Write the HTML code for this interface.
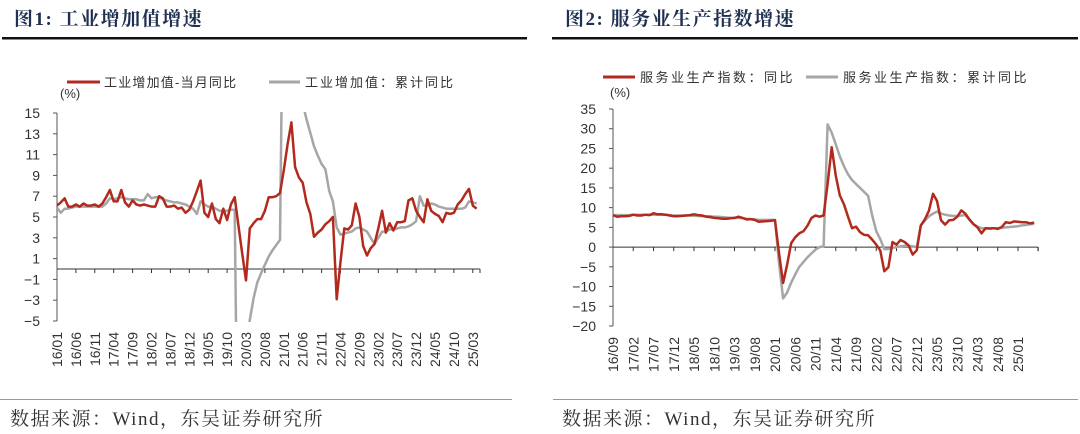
<!DOCTYPE html>
<html><head><meta charset="utf-8">
<style>
html,body{margin:0;padding:0;background:#fff;width:1080px;height:434px;overflow:hidden;}
svg{display:block;font-family:"Liberation Sans","Noto Sans CJK SC",sans-serif;}
</style></head>
<body>
<svg id="s" width="1080" height="434" viewBox="0 0 1080 434" xmlns="http://www.w3.org/2000/svg">
<defs>
<clipPath id="c1"><rect x="57" y="112" width="430" height="210"/></clipPath>
<clipPath id="c2"><rect x="612" y="100" width="440" height="240"/></clipPath>
</defs>
<text x="14" y="25" font-family="'Liberation Serif','Noto Serif CJK SC',serif" font-weight="bold" font-size="19" letter-spacing="1.5" fill="#1f3050">图1:  工业增加值增速</text>
<rect x="2" y="37" width="525" height="2.5" fill="#111"/>
<text x="565" y="25" font-family="'Liberation Serif','Noto Serif CJK SC',serif" font-weight="bold" font-size="19" letter-spacing="1.5" fill="#1f3050">图2:  服务业生产指数增速</text>
<rect x="552" y="37" width="526" height="2.5" fill="#111"/>

<g>
<line x1="67" y1="82" x2="100" y2="82" stroke="#b22a1e" stroke-width="3"/>
<text x="104" y="87" font-size="13" fill="#333" letter-spacing="1.2">工业增加值-当月同比</text>
<line x1="269" y1="82" x2="300" y2="82" stroke="#a6a6a6" stroke-width="3"/>
<text x="305" y="87" font-size="13" fill="#333" letter-spacing="2">工业增加值：累计同比</text>
</g>
<text x="60" y="98" font-size="13" fill="#333">(%)</text>

<g>
<line x1="603" y1="77" x2="635" y2="77" stroke="#b22a1e" stroke-width="3"/>
<text x="640" y="82" font-size="13" fill="#333" letter-spacing="2.5">服务业生产指数：同比</text>
<line x1="806" y1="77" x2="838" y2="77" stroke="#a6a6a6" stroke-width="3"/>
<text x="843" y="82" font-size="13" fill="#333" letter-spacing="2.5">服务业生产指数：累计同比</text>
</g>
<text x="610" y="97" font-size="13" fill="#333">(%)</text>

<rect x="0" y="399" width="512" height="1" fill="#999"/>
<rect x="553" y="399" width="525" height="1" fill="#999"/>
<text x="10" y="425" font-family="'Liberation Serif','Noto Serif CJK SC',serif" font-size="19" letter-spacing="1.5" fill="#333">数据来源：Wind，东吴证券研究所</text>
<text x="562" y="425" font-family="'Liberation Serif','Noto Serif CJK SC',serif" font-size="19" letter-spacing="1.5" fill="#333">数据来源：Wind，东吴证券研究所</text>
<g id="g1"></g><g id="g2"></g>
</svg>
<script>
// ---------- Chart 1 data (monthly from 16/01) ----------
const c1Ticks = [15,13,11,9,7,5,3,1,-1,-3,-5];
const c1Labels = ["16/01","16/06","16/11","17/04","17/09","18/02","18/07","18/12","19/05","19/10","20/03","20/08","21/01","21/06","21/11","22/04","22/09","23/02","23/07","23/12","24/05","24/10","25/03"];
const c1Monthly = [6.1,6.4,6.8,6.0,6.0,6.2,6.0,6.3,6.1,6.1,6.2,6.0,
6.3,6.9,7.6,6.5,6.5,7.6,6.4,6.0,6.6,6.2,6.1,6.2,
6.1,6.0,6.0,7.0,6.8,6.0,6.0,6.1,5.8,5.9,5.4,5.7,
6.5,7.5,8.5,5.4,5.0,6.3,4.8,4.4,5.8,4.7,6.2,6.9,
4.2,1.5,-1.1,3.9,4.4,4.8,4.8,5.6,6.9,6.9,7.0,7.3,
9.5,12.0,14.1,9.8,8.8,8.3,6.4,5.3,3.1,3.5,3.8,4.3,
4.6,5.0,-2.9,0.7,3.9,3.8,4.2,6.3,5.0,2.2,1.3,2.0,
2.4,3.9,5.6,3.5,4.4,3.7,4.5,4.5,4.6,6.6,6.8,5.6,
5.0,4.5,6.7,5.6,5.3,5.1,4.5,5.4,5.3,5.4,6.2,6.6,7.2,7.7,6.1,5.8];
const c1Cumulative = [5.9,5.4,5.8,5.8,5.9,6.0,6.0,6.0,6.0,6.0,6.0,6.0,
6.0,6.3,6.8,6.7,6.8,6.9,6.8,6.7,6.7,6.7,6.6,6.6,
7.2,6.8,6.9,6.9,6.7,6.6,6.5,6.4,6.4,6.3,6.2,6.0,
5.8,5.3,6.5,6.2,6.0,6.0,5.8,5.6,5.6,5.6,5.7,5.7,
-25.9,-19.6,-8.4,-4.9,-2.8,-1.3,-0.4,0.4,1.2,1.8,2.3,2.8,
35.1,35.1,24.5,20.3,17.8,15.9,14.4,13.1,11.8,10.9,10.1,9.6,
7.5,6.5,4.0,3.3,3.4,3.5,3.6,3.9,4.0,3.8,3.6,3.0,
2.4,3.0,3.6,3.6,3.8,3.8,3.9,4.0,4.0,4.1,4.3,4.6,
7.0,6.1,6.1,6.3,6.2,6.0,5.9,5.8,5.8,5.8,5.8,5.8,5.9,6.5,6.4,6.3];
// ---------- Chart 2 data (monthly from 16/09) ----------
const c2Ticks = [35,30,25,20,15,10,5,0,-5,-10,-15,-20];
const c2Labels = ["16/09","17/02","17/07","17/12","18/05","18/10","19/03","19/08","20/01","20/06","20/11","21/04","21/09","22/02","22/07","22/12","23/05","23/10","24/03","24/08","25/01"];
const c2Yoy = [8.1,7.7,7.8,7.8,7.9,8.2,8.0,8.0,8.2,8.1,
8.6,8.3,8.3,8.2,8.0,7.8,7.8,7.9,8.0,8.1,
8.3,8.1,8.0,7.7,7.6,7.4,7.3,7.2,7.2,7.3,
7.4,7.7,7.4,7.0,7.1,6.9,6.4,6.5,6.6,6.7,
6.8,-1.5,-9.1,-4.5,1.0,2.5,3.5,4.0,5.4,7.4,8.0,7.7,
8.0,16.0,25.3,18.1,13.1,10.9,7.8,4.8,5.2,3.8,3.1,3.0,1.9,0.6,-0.9,
-6.1,-5.1,1.3,0.6,1.8,1.3,0.4,-1.9,-0.8,
5.5,7.0,9.2,13.5,11.7,6.8,5.7,6.8,6.9,7.7,9.3,8.5,
7.0,5.8,5.0,3.5,4.8,4.7,4.8,4.6,5.1,6.3,6.1,6.5,6.4,6.3,6.3,6.0,6.2];
const c2Cumulative = [8.1,8.1,8.1,8.1,8.1,8.2,8.2,8.2,8.2,8.2,
8.2,8.2,8.2,8.2,8.1,8.0,8.0,8.0,8.0,8.0,
7.9,7.9,7.8,7.8,7.8,7.7,7.7,7.6,7.5,7.4,
7.4,7.4,7.3,7.2,7.1,7.0,6.9,6.9,6.9,6.9,
6.9,-4.0,-13.0,-11.5,-9.0,-6.9,-5.0,-3.8,-2.6,-1.6,-0.6,0.0,
0.2,31.1,29,26,23,20.5,18.5,17,16,15,14,13,8,4,2.0,
-0.5,-0.5,-0.2,0.0,0.2,0.3,0.3,0.2,0.0,
5.5,6.7,7.8,8.5,9.0,8.5,8.2,8.0,7.9,7.9,8.0,8.1,
7.0,5.8,5.2,4.8,4.8,4.7,4.8,4.8,4.9,5.0,5.1,5.2,5.3,5.5,5.6,5.8,5.9];

const NS="http://www.w3.org/2000/svg";
function mk(tag,attrs,parent){const e=document.createElementNS(NS,tag);for(const k in attrs)e.setAttribute(k,attrs[k]);parent.appendChild(e);return e;}

function drawChart(g,cfg){
  const {x0,step,yTop,yBot,vTop,vBot,xEnd,ticks,labels,s1,s2,clip,prefix,labelRight}=cfg;
  const X=i=>x0+step*i;
  const Y=v=>yTop+(vTop-v)/(vTop-vBot)*(yBot-yTop);
  const ax=mk('line',{x1:x0,y1:yTop,x2:x0,y2:yBot,stroke:'#555','stroke-width':1},g);
  
  
  ticks.forEach(t=>{
    const y=Y(t);
    const tl=mk('line',{x1:x0-4,y1:y,x2:x0,y2:y,stroke:'#555'},g);
    
    
    const tx=mk('text',{x:labelRight,y:y+5,'text-anchor':'end','font-size':14,fill:'#333'},g);
    tx.textContent=String(t).replace('-','\u2212');
    
    
  });
  const zl=mk('line',{x1:x0,y1:Y(0),x2:xEnd,y2:Y(0),stroke:'#333','stroke-width':1},g);
  
  
  for(let i=5;X(i)<=xEnd+1;i+=5){
    const tk=mk('line',{x1:X(i),y1:Y(0),x2:X(i),y2:Y(0)+4,stroke:'#333'},g);
    
    
  }
  mk('line',{x1:xEnd,y1:Y(0),x2:xEnd,y2:Y(0)+4,stroke:'#333'},g);
  labels.forEach((lb,k)=>{
    const x=X(k*5);
    const t=mk('text',{x:0,y:0,'text-anchor':'end','font-size':14,fill:'#333',transform:`translate(${x+5},${yBot+11}) rotate(-90)`},g);
    t.textContent=lb;
    
    
  });
  const line=(arr,color,name)=>{
    const d=arr.map((v,i)=>(i?'L':'M')+X(i).toFixed(1)+' '+Y(v).toFixed(1)).join(' ');
    const p=mk('path',{d:d,fill:'none',stroke:color,'stroke-width':2.5,'stroke-linejoin':'round','clip-path':`url(#${clip})`},g);
    
    
  };
  line(s2,'#a6a6a6',prefix+'-cumulative-line');
  line(s1,'#b22a1e',prefix+'-yoy-line');
}
const g1=document.getElementById('g1');


drawChart(g1,{x0:57,step:3.78,yTop:113,yBot:321,vTop:15,vBot:-5,xEnd:480,ticks:c1Ticks,labels:c1Labels,s1:c1Monthly,s2:c1Cumulative,clip:'c1',prefix:'chart1',labelRight:40});
const g2=document.getElementById('g2');


drawChart(g2,{x0:613,step:4.05,yTop:109,yBot:326,vTop:35,vBot:-20,xEnd:1038,ticks:c2Ticks,labels:c2Labels,s1:c2Yoy,s2:c2Cumulative,clip:'c2',prefix:'chart2',labelRight:596});
</script>
</body></html>
